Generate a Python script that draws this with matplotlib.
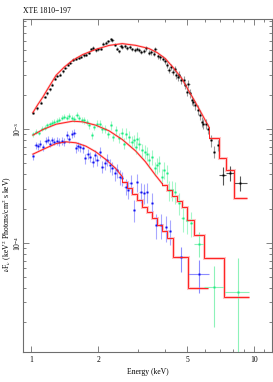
import numpy as np
import matplotlib
matplotlib.use("Agg")
import matplotlib.pyplot as plt
from matplotlib.ticker import FixedLocator, FixedFormatter, NullFormatter

plt.rcParams['font.family'] = ['Liberation Serif', 'DejaVu Serif']
plt.rcParams['mathtext.fontset'] = 'stix'

# black spectrum (brightest)
black_E = [1.02, 1.063, 1.112, 1.150, 1.178, 1.211, 1.244, 1.283, 1.314, 1.350,
           1.387, 1.426, 1.460, 1.501, 1.548, 1.590, 1.634, 1.674, 1.720, 1.762,
           1.810, 1.854, 1.898, 1.951, 2.005, 2.054, 2.111, 2.162, 2.222, 2.275,
           2.314, 2.378, 2.436, 2.478, 2.520, 2.564, 2.634, 2.698, 2.764, 2.840,
           2.919, 2.989, 3.041, 3.125, 3.201, 3.278, 3.368, 3.461, 3.545, 3.606,
           3.706, 3.796, 3.888, 3.996, 4.078, 4.134, 4.248, 4.307, 4.395, 4.456,
           4.548, 4.610, 4.705, 4.819, 4.901, 4.985, 5.071, 5.158, 5.248, 5.338,
           5.430, 5.580, 5.715, 5.814, 5.914, 6.06, 6.20, 6.42, 6.59, 6.87]
black_F = [1.40, 1.52, 1.71, 1.92, 2.06, 2.24, 2.46, 2.78, 2.94, 3.02,
           3.23, 3.45, 3.69, 3.85, 4.08, 4.17, 4.22, 4.31, 4.46, 4.52,
           4.70, 5.03, 5.17, 4.93, 5.03, 5.10, 5.64, 5.76, 5.91, 6.16,
           6.03, 5.53, 5.10, 4.83, 5.38, 5.28, 5.38, 5.17, 5.28, 5.03,
           4.93, 5.10, 4.93, 4.77, 4.83, 5.17, 4.70, 4.77, 4.61, 5.03,
           4.40, 4.31, 4.17, 3.95, 3.64, 3.29, 3.52, 3.18, 3.36, 2.98,
           2.88, 3.02, 2.69, 2.69, 2.43, 2.13, 2.52, 2.06, 1.80, 1.74,
           1.62, 1.47, 1.33, 1.16, 1.12, 1.12, 1.01, 0.80, 0.633, 0.724]  # 1e-3
black_err = [0.025, 0.025, 0.025, 0.025, 0.025, 0.025, 0.025, 0.025, 0.025, 0.025,
             0.025, 0.025, 0.025, 0.025, 0.025, 0.025, 0.025, 0.025, 0.025, 0.025,
             0.035, 0.035, 0.035, 0.035, 0.035, 0.035, 0.035, 0.035, 0.035, 0.035,
             0.035, 0.035, 0.035, 0.035, 0.035, 0.035, 0.035, 0.035, 0.035, 0.035,
             0.04, 0.04, 0.04, 0.04, 0.04, 0.05, 0.05, 0.05, 0.05, 0.05,
             0.05, 0.05, 0.05, 0.06, 0.06, 0.06, 0.06, 0.06, 0.06, 0.07,
             0.07, 0.07, 0.08, 0.08, 0.08, 0.08, 0.08, 0.09, 0.09, 0.09,
             0.09, 0.10, 0.10, 0.10, 0.10, 0.10, 0.10, 0.12, 0.12, 0.12]
black_tail_E = [7.23, 7.82, 8.61]
black_tail_F = [3.95e-4, 4.14e-4, 3.34e-4]
black_tail_lo = [6.94, 7.43, 8.07]
black_tail_hi = [7.43, 8.07, 9.31]
black_tail_err = [0.18, 0.15, 0.15]

black_model_E = [1.02, 1.074, 1.131, 1.190, 1.296, 1.411, 1.537, 1.702, 1.95, 2.237,
                 2.56, 2.938, 3.37, 3.668, 3.99, 4.35, 4.74, 5.07, 5.43, 5.81, 6.25]
black_model_F = [1.40, 1.65, 1.92, 2.27, 2.98, 3.52, 4.03, 4.52, 5.03, 5.45,
                 5.65, 5.46, 5.12, 4.72, 4.18, 3.45, 2.78, 2.20, 1.74, 1.37, 1.05]  # 1e-3
black_step_edges = [6.25, 6.94, 7.43, 8.07, 9.31]
black_step_F = [8.3e-4, 5.53e-4, 4.4e-4, 2.47e-4]

# green spectrum
green_E = [1.02, 1.056, 1.085, 1.123, 1.150, 1.178, 1.211, 1.244, 1.274, 1.309,
           1.341, 1.378, 1.411, 1.445, 1.485, 1.527, 1.564, 1.601, 1.645, 1.691,
           1.732, 1.774, 1.823, 1.874, 1.919, 1.985, 2.033, 2.089, 2.147, 2.222,
           2.275, 2.330, 2.395, 2.478, 2.547, 2.608, 2.671, 2.745, 2.821, 2.889,
           2.938, 2.989, 3.061, 3.146, 3.233, 3.311, 3.368, 3.485, 3.581, 3.668,
           3.731, 3.862, 3.928, 4.062, 4.163, 4.277, 4.426, 4.61, 4.77, 4.99, 5.23]
green_F = [9.04, 9.47, 9.29, 10.13, 10.34, 10.84, 11.06, 11.37, 11.60, 11.83,
           12.16, 12.66, 12.83, 12.66, 13.00, 12.66, 12.40, 13.27, 12.66, 12.16,
           11.99, 11.60, 10.84, 8.86, 10.48, 11.21, 11.06, 10.13, 10.13, 9.16,
           10.84, 8.57, 9.80, 8.45, 9.29, 7.48, 9.16, 8.57, 7.74, 8.01,
           7.00, 8.28, 7.48, 6.54, 6.32, 6.11, 5.35, 5.72, 4.52, 4.83,
           5.00, 3.82, 4.37, 4.08, 2.92, 2.92, 2.82, 2.26, 1.65, 1.59, 1.49]  # 1e-4
green_err = [0.05, 0.05, 0.05, 0.05, 0.05, 0.05, 0.05, 0.05, 0.05, 0.05,
             0.05, 0.05, 0.05, 0.05, 0.06, 0.06, 0.06, 0.06, 0.06, 0.06,
             0.07, 0.07, 0.07, 0.07, 0.07, 0.07, 0.08, 0.08, 0.08, 0.08,
             0.09, 0.09, 0.09, 0.10, 0.10, 0.11, 0.11, 0.12, 0.12, 0.12,
             0.13, 0.13, 0.13, 0.14, 0.14, 0.14, 0.15, 0.15, 0.15, 0.16,
             0.16, 0.17, 0.17, 0.18, 0.20, 0.20, 0.22, 0.22, 0.25, 0.25, 0.25]
green_tail_E = [5.66, 6.60, 8.43]
green_tail_F = [9.8e-5, 4.14e-5, 3.74e-5]
green_tail_lo = [5.36, 5.93, 7.28]
green_tail_hi = [5.93, 7.28, 9.50]
green_tail_down = [2.3e-5, 2.3e-5, 3.6e-5]
green_tail_up = [2.7e-5, 2.15e-5, 3.64e-5]

green_model_E = [1.02, 1.13, 1.296, 1.537, 1.702, 1.951, 2.237, 2.564, 2.938, 3.255,
                 3.606, 3.86]
green_model_F = [8.86, 9.93, 11.06, 11.75, 11.6, 10.84, 9.67, 8.11, 6.45, 5.17,
                 3.95, 3.34]  # 1e-4
green_step_edges = [3.86, 4.06, 4.28, 4.50, 4.74, 4.98, 5.36, 5.93, 7.28, 9.50]
green_step_F = [3.23e-4, 2.92e-4, 2.58e-4, 2.33e-4, 2.07e-4, 1.59e-4, 1.17e-4,
                7.38e-5, 3.36e-5]

# blue spectrum
blue_E = [1.02, 1.049, 1.074, 1.100, 1.131, 1.162, 1.190, 1.219, 1.244, 1.274,
          1.305, 1.341, 1.378, 1.411, 1.445, 1.485, 1.527, 1.564, 1.590, 1.618,
          1.657, 1.702, 1.750, 1.792, 1.835, 1.886, 1.939, 1.985, 2.033, 2.089,
          2.147, 2.199, 2.253, 2.314, 2.378, 2.436, 2.495, 2.564, 2.653, 2.727,
          2.792, 2.889, 2.989, 3.093, 3.201, 3.311, 3.485, 3.63, 3.82, 4.02, 4.20]
blue_F = [5.79, 7.24, 7.09, 7.48, 6.91, 7.90, 8.11, 7.48, 8.01, 7.74,
          7.90, 7.74, 7.90, 7.74, 8.86, 8.28, 9.04, 9.29, 6.77, 7.09,
          6.91, 6.77, 5.53, 6.11, 5.72, 5.17, 5.91, 5.35, 6.32, 4.67,
          5.00, 5.35, 4.83, 4.52, 4.08, 4.37, 3.82, 3.69, 3.12, 2.92,
          3.34, 1.95, 3.45, 2.82, 2.76, 2.82, 2.23, 1.44, 1.44, 1.37, 1.28]  # 1e-4
blue_err = [0.07, 0.07, 0.07, 0.07, 0.07, 0.07, 0.07, 0.07, 0.07, 0.07,
            0.08, 0.08, 0.08, 0.08, 0.08, 0.08, 0.08, 0.08, 0.09, 0.09,
            0.09, 0.09, 0.10, 0.10, 0.10, 0.10, 0.11, 0.11, 0.11, 0.12,
            0.12, 0.12, 0.13, 0.13, 0.14, 0.14, 0.15, 0.15, 0.16, 0.17,
            0.18, 0.22, 0.18, 0.20, 0.20, 0.20, 0.22, 0.25, 0.25, 0.25, 0.25]
blue_tail_E = [4.69, 5.66]
blue_tail_F = [7.59e-5, 5.31e-5]
blue_tail_lo = [4.50, 5.07]
blue_tail_hi = [4.90, 6.28]
blue_tail_down = [2.0e-5, 1.7e-5]
blue_tail_up = [1.7e-5, 1.8e-5]

blue_model_E = [1.02, 1.13, 1.296, 1.436, 1.590, 1.762, 1.951, 2.162, 2.395, 2.564]
blue_model_F = [6.03, 6.63, 7.48, 7.74, 7.59, 7.09, 6.32, 5.42, 4.52, 3.82]  # 1e-4
blue_step_edges = [2.564, 2.698, 2.840, 2.989, 3.146, 3.311, 3.485, 3.668, 3.86,
                   4.06, 4.32, 5.04, 6.18]
blue_step_F = [3.42e-4, 3.04e-4, 2.69e-4, 2.38e-4, 2.07e-4, 1.87e-4, 1.66e-4,
               1.44e-4, 1.27e-4, 1.11e-4, 7.54e-5, 4.03e-5]

fig = plt.figure(figsize=(2.73, 3.82), dpi=100)
ax = fig.add_axes([23/273, 30/382, 249/273, 333/382])
ax.set_xscale('log')
ax.set_yscale('log')

RED = '#ff2020'
PINK = '#ffc4c4'


def draw_model(E, F, scale, edges, steps):
    ax.plot(E, np.array(F) * scale, color=PINK, lw=1.6, zorder=1)
    ax.stairs(steps, edges, color=PINK, lw=2.2, zorder=1, baseline=None)
    ax.plot(E, np.array(F) * scale, color=RED, lw=0.7, zorder=4)
    # join the smooth part with the first bin
    ax.plot([E[-1], E[-1]], [F[-1] * scale, steps[0]], color=RED, lw=0.7, zorder=4)
    ax.stairs(steps, edges, color=RED, lw=0.7, zorder=4, baseline=None)


def draw_data(E, F, scale, rel, color, ecolor):
    E = np.array(E)
    F = np.array(F) * scale
    yerr = F * np.array(rel)
    xerr = E * 0.012
    ax.errorbar(E, F, yerr=yerr, xerr=xerr, fmt='s', ms=1.4, mew=0, color=color,
                ecolor=ecolor, elinewidth=0.8, capsize=0, zorder=2)


def draw_tail(E, F, lo, hi, down, up, color, ecolor):
    E = np.array(E)
    xerr = [E - np.array(lo), np.array(hi) - E]
    ax.errorbar(E, F, yerr=[down, up], xerr=xerr, fmt='s', ms=1.4, mew=0, color=color,
                ecolor=ecolor, elinewidth=0.8, capsize=0, zorder=2)


draw_data(black_E, black_F, 1e-3, black_err, 'black', '#9a9a9a')
draw_tail(black_tail_E, black_tail_F, black_tail_lo, black_tail_hi,
          np.array(black_tail_F) * np.array(black_tail_err),
          np.array(black_tail_F) * np.array(black_tail_err), 'black', '#555555')
draw_data(green_E, green_F, 1e-4, green_err, '#19ee80', '#a6f7c9')
draw_tail(green_tail_E, green_tail_F, green_tail_lo, green_tail_hi,
          green_tail_down, green_tail_up, '#19ee80', '#8ef2b9')
draw_data(blue_E, blue_F, 1e-4, blue_err, '#1010f0', '#a8a8ff')
draw_tail(blue_tail_E, blue_tail_F, blue_tail_lo, blue_tail_hi,
          blue_tail_down, blue_tail_up, '#1010f0', '#8c8cff')

draw_model(black_model_E, black_model_F, 1e-3, black_step_edges, black_step_F)
draw_model(green_model_E, green_model_F, 1e-4, green_step_edges, green_step_F)
draw_model(blue_model_E, blue_model_F, 1e-4, blue_step_edges, blue_step_F)

ax.set_xlim(0.921, 12.0)
ax.set_ylim(1.1e-5, 9.3e-3)

ax.xaxis.set_major_locator(FixedLocator([1, 2, 5, 10]))
ax.xaxis.set_major_formatter(FixedFormatter(['1', '2', '5', '10']))
ax.xaxis.set_minor_locator(FixedLocator([3, 4, 6, 7, 8, 9, 11]))
ax.xaxis.set_minor_formatter(NullFormatter())

for s in ax.spines.values():
    s.set_color('#6e6e6e')
    s.set_linewidth(0.8)
ax.tick_params(which='both', direction='in', top=True, right=True, color='#6e6e6e',
               width=0.6)
ax.tick_params(which='major', length=4)
ax.tick_params(which='minor', length=2.2)
ax.tick_params(axis='x', labelsize=5.5, pad=3)
ax.tick_params(axis='y', labelsize=5.5, pad=0, labelrotation=90)
for lab in ax.get_yticklabels():
    lab.set_verticalalignment('center')

ax.set_xlabel('Energy (keV)', fontsize=5.5, labelpad=3)
ax.set_ylabel(r'$\nu$F$_\nu$ (keV$^2$ Photons/cm$^2$ s keV)', fontsize=5.5)
ax.yaxis.set_label_coords(-0.038, 0.385)
fig.text(23/273, 1 - 11/382, 'XTE 1810\u2212197', fontsize=5.5, ha='left', va='center')

fig.savefig('out.png', dpi=100)
